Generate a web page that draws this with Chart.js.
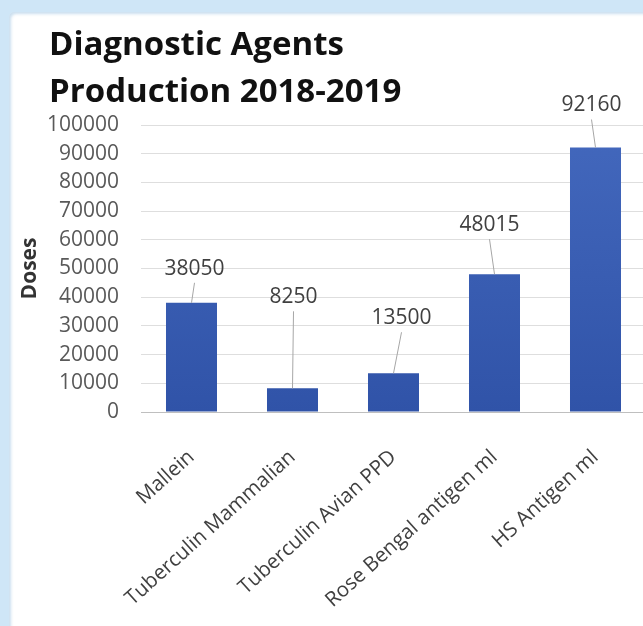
<!DOCTYPE html>
<html>
<head>
<meta charset="utf-8">
<script src="https://cdn.jsdelivr.net/npm/chart.js@4.4.1/dist/chart.umd.min.js"></script>
<style>
    html, body { margin: 0; padding: 0; }
    body { width: 643px; height: 626px; overflow: hidden; position: relative; background: #cfe6f7; }
    .panel {
        position: absolute; left: 9px; top: 12px; width: 700px; height: 700px;
        background: #fff; border-radius: 5px 0 0 0;
        box-shadow: inset 2px 2px 3px rgba(140, 185, 220, 0.45);
    }
    #chart { position: absolute; left: 0; top: 0; }
</style>
</head>
<body>
<div class="panel"></div>
<canvas id="chart" width="650" height="626"></canvas>
<script>
const categories = ['Mallein', 'Tuberculin Mammalian', 'Tuberculin Avian PPD', 'Rose Bengal antigen ml', 'HS Antigen ml']
const doses = [38050, 8250, 13500, 48015, 92160]
const yMin = 0
const yMax = 100000
const yStep = 10000
const titleLines = ['Diagnostic Agents', 'Production 2018-2019']
const axisLabel = 'Doses'

// where each value label sits relative to the top-centre of its bar (px)
const labelShift = [[3, -34], [1, -91], [8, -55], [-5, -49], [-4, -42]]

const headline = {
    id: 'headline',
    afterDraw(chart) {
        const c = chart.ctx
        c.save()
        c.font = 'bold 33px "Open Sans"'
        c.fillStyle = '#111111'
        c.textAlign = 'left'
        c.textBaseline = 'alphabetic'
        titleLines.forEach((line, i) => c.fillText(line, 49, 55 + i * 47))
        c.restore()
    }
}

// value labels with thin leader lines down to the bar
const leaderLabels = {
    id: 'leaderLabels',
    afterDatasetsDraw(chart) {
        const c = chart.ctx
        const bars = chart.getDatasetMeta(0).data
        c.save()
        c.font = '21px "Open Sans"'
        c.textAlign = 'center'
        c.textBaseline = 'middle'
        bars.forEach((bar, i) => {
            const lx = bar.x + labelShift[i][0]
            const ly = bar.y + labelShift[i][1]
            c.strokeStyle = '#a6a6a6'
            c.lineWidth = 1
            c.beginPath()
            c.moveTo(lx, ly + 14)
            c.lineTo(bar.x, bar.y)
            c.stroke()
            c.fillStyle = '#404040'
            c.fillText(String(doses[i]), lx, ly)
        })
        c.restore()
    }
}

function barFill(ctx) {
    const area = ctx.chart.chartArea
    if (!area) return '#3a5cb2'
    const g = ctx.chart.ctx.createLinearGradient(0, area.top, 0, area.bottom)
    g.addColorStop(0, '#4368bd')
    g.addColorStop(1, '#3053a8')
    return g
}

const chart = new Chart(document.getElementById('chart'), {
    type: 'bar',
    data: {
        labels: categories,
        datasets: [{
            label: axisLabel,
            data: doses,
            backgroundColor: barFill,
            borderWidth: 0,
            categoryPercentage: 1,
            barPercentage: 0.505,
        }]
    },
    options: {
        responsive: false,
        animation: false,
        devicePixelRatio: 1,
        layout: { padding: { top: 125, right: 4, left: 0, bottom: 0 } },
        plugins: {
            legend: { display: false },
            title: { display: false },
            tooltip: { enabled: false },
        },
        scales: {
            x: {
                grid: { display: false },
                border: { display: false },
                ticks: {
                    autoSkip: false,
                    minRotation: 42,
                    maxRotation: 42,
                    padding: 25,
                    color: '#404040',
                    font: { family: 'Open Sans', size: 20.5 },
                },
                afterFit(scale) { scale.height = 214 },
            },
            y: {
                min: yMin,
                max: yMax,
                border: { display: false },
                grid: {
                    drawTicks: false,
                    color: ctx => ctx.tick && ctx.tick.value === 0 ? '#bfbfbf' : '#dedede',
                },
                ticks: {
                    stepSize: yStep,
                    padding: 22,
                    color: '#595959',
                    font: { family: 'Open Sans', size: 21 },
                    callback: v => String(v),
                },
                title: {
                    display: true,
                    text: axisLabel,
                    color: '#333333',
                    font: { family: 'Open Sans', size: 21, weight: 'bold' },
                    padding: { top: 17, bottom: 0 },
                },
                afterFit(scale) { scale.width = 141 },
            }
        }
    },
    plugins: [headline, leaderLabels]
})
</script>
</body>
</html>
